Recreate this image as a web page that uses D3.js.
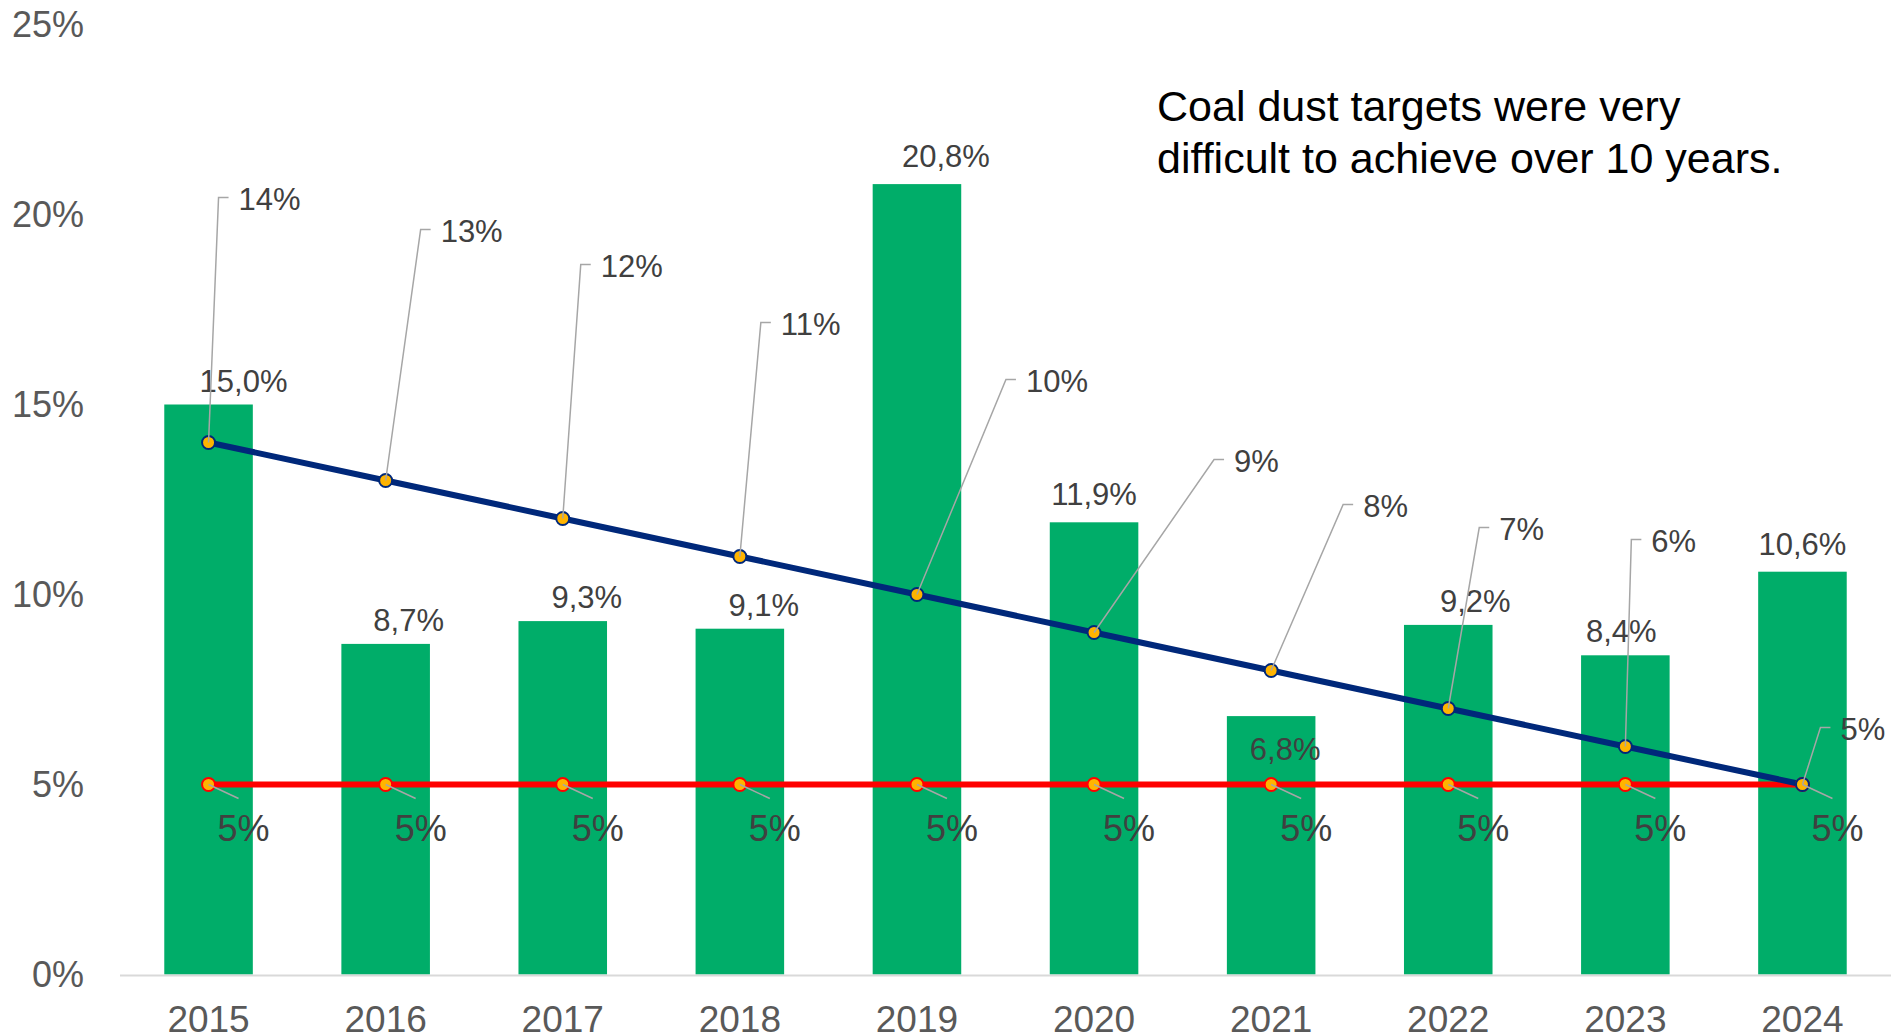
<!DOCTYPE html>
<html>
<head>
<meta charset="utf-8">
<script src="https://cdn.jsdelivr.net/npm/d3@7"></script>
<style>
  html, body { margin: 0; padding: 0; background: #fff; }
  svg { display: block; font-family: "Liberation Sans", Arial, sans-serif; }
</style>
</head>
<body>
<svg id="chart" width="1891" height="1036"></svg>
<script>
// data
var years = ["2015", "2016", "2017", "2018", "2019", "2020", "2021", "2022", "2023", "2024"];
var actual = [15.0, 8.7, 9.3, 9.1, 20.8, 11.9, 6.8, 9.2, 8.4, 10.6];     // bars, %
var target = [14, 13, 12, 11, 10, 9, 8, 7, 6, 5];                       // blue line, %
var limit = [5, 5, 5, 5, 5, 5, 5, 5, 5, 5];                             // red line, %
var yTicks = [0, 5, 10, 15, 20, 25];
var note = ["Coal dust targets were very", "difficult to achieve over 10 years."];

var width = 1891,
    height = 1036;

var svg = d3.select("#chart");

var x = d3.scaleBand()
    .domain(years)
    .range([120, 1891])
    .paddingInner(0.5)
    .paddingOuter(0.25);

var y = d3.scaleLinear()
    .domain([0, 25])
    .range([974.5, 24.5]);

function cx(i) { return x(years[i]) + x.bandwidth() / 2; }

// label nudges, as the labels were moved by hand in the original
var barLabelDx = [35, 23, 24, 24, 29, 0, 14, 27, -4, 0];
var barLabelDy = [0, 0, 0, 0, -4, -4, 57, 0, 0, -4];
// corner of the leader line for the target labels, relative to the point
var targetLead = [[10, -245], [35, -251], [18, -254], [21, -234], [89, -215],
                  [120, -173], [72, -166], [31, -181], [6, -207], [18, -57]];

// y axis labels
svg.append("g")
    .selectAll("text")
    .data(yTicks)
    .enter().append("text")
    .attr("x", 84)
    .attr("y", function(d) { return y(d); })
    .attr("dy", "0.35em")
    .attr("text-anchor", "end")
    .attr("font-size", 36)
    .attr("fill", "#595959")
    .text(function(d) { return d + "%"; });

// bars
svg.append("g")
    .selectAll("rect")
    .data(actual)
    .enter().append("rect")
    .attr("x", function(d, i) { return x(years[i]); })
    .attr("y", function(d) { return y(d); })
    .attr("width", x.bandwidth())
    .attr("height", function(d) { return y(0) - y(d); })
    .attr("fill", "#00ad69");

// x axis line
svg.append("line")
    .attr("x1", 120).attr("x2", 1891)
    .attr("y1", y(0) + 1).attr("y2", y(0) + 1)
    .attr("stroke", "#d9d9d9")
    .attr("stroke-width", 2);

// year labels
svg.append("g")
    .selectAll("text")
    .data(years)
    .enter().append("text")
    .attr("x", function(d, i) { return cx(i); })
    .attr("y", 1032)
    .attr("text-anchor", "middle")
    .attr("font-size", 37)
    .attr("fill", "#595959")
    .text(function(d) { return d; });

// bar value labels
svg.append("g")
    .selectAll("text")
    .data(actual)
    .enter().append("text")
    .attr("x", function(d, i) { return cx(i) + barLabelDx[i]; })
    .attr("y", function(d, i) { return y(d) - 13 + barLabelDy[i]; })
    .attr("text-anchor", "middle")
    .attr("font-size", 31)
    .attr("fill", "#404040")
    .text(function(d) { return d.toFixed(1).replace(".", ",") + "%"; });

// lines
var line = d3.line()
    .x(function(d, i) { return cx(i); })
    .y(function(d) { return y(d); });

svg.append("path")
    .datum(limit)
    .attr("d", line)
    .attr("fill", "none")
    .attr("stroke", "#ff0000")
    .attr("stroke-width", 6);

svg.append("path")
    .datum(target)
    .attr("d", line)
    .attr("fill", "none")
    .attr("stroke", "#00287a")
    .attr("stroke-width", 6);

// markers
svg.append("g")
    .selectAll("circle")
    .data(limit)
    .enter().append("circle")
    .attr("cx", function(d, i) { return cx(i); })
    .attr("cy", function(d) { return y(d); })
    .attr("r", 6.5)
    .attr("fill", "#ffb400")
    .attr("stroke", "#ff0000")
    .attr("stroke-width", 2);

svg.append("g")
    .selectAll("circle")
    .data(target)
    .enter().append("circle")
    .attr("cx", function(d, i) { return cx(i); })
    .attr("cy", function(d) { return y(d); })
    .attr("r", 6.5)
    .attr("fill", "#ffb400")
    .attr("stroke", "#00287a")
    .attr("stroke-width", 2);

// leader lines + labels for the red line
var limitLabels = svg.append("g");
limit.forEach(function(d, i) {
    var px = cx(i), py = y(d);
    limitLabels.append("line")
        .attr("x1", px).attr("y1", py)
        .attr("x2", px + 30).attr("y2", py + 14)
        .attr("stroke", "#a6a6a6")
        .attr("stroke-width", 1.5);
    limitLabels.append("text")
        .attr("x", px + 35)
        .attr("y", py + 56)
        .attr("text-anchor", "middle")
        .attr("font-size", 36)
        .attr("fill", "#404040")
        .text(d + "%");
});

// leader lines + labels for the blue line
var targetLabels = svg.append("g");
target.forEach(function(d, i) {
    var px = cx(i), py = y(d);
    var kx = px + targetLead[i][0], ky = py + targetLead[i][1];
    targetLabels.append("polyline")
        .attr("points", [[px, py], [kx, ky], [kx + 10, ky]].join(" "))
        .attr("fill", "none")
        .attr("stroke", "#a6a6a6")
        .attr("stroke-width", 1.5);
    targetLabels.append("text")
        .attr("x", kx + 20)
        .attr("y", ky + 2)
        .attr("dy", "0.35em")
        .attr("font-size", 31)
        .attr("fill", "#404040")
        .text(d + "%");
});

// note
svg.append("g")
    .selectAll("text")
    .data(note)
    .enter().append("text")
    .attr("x", 1157)
    .attr("y", function(d, i) { return 121 + i * 52; })
    .attr("font-size", 43)
    .attr("fill", "#000")
    .text(function(d) { return d; });
</script>
</body>
</html>
